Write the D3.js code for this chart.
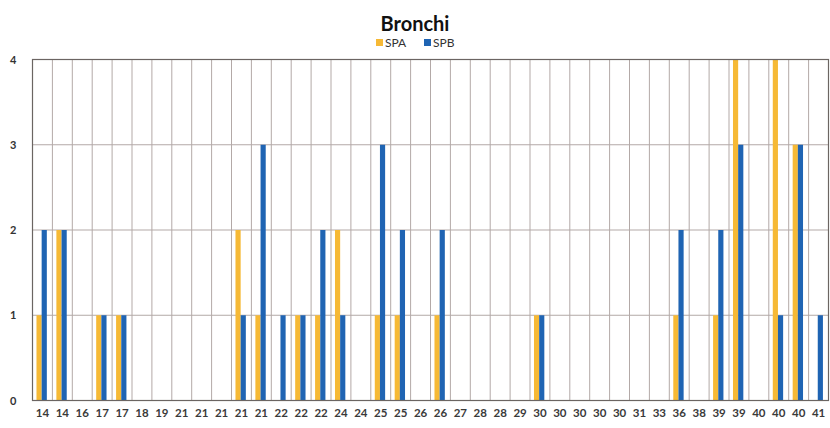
<!DOCTYPE html>
<html>
<head>
<meta charset="utf-8">
<script src="https://cdn.jsdelivr.net/npm/d3@7"></script>
<style>
  body { margin: 0; background: #ffffff; }
  text { font-family: Lato, "Open Sans", sans-serif; }
</style>
</head>
<body>
<svg id="chart" width="830" height="428"></svg>
<script>
// x-axis categories (age labels, repeated as in the source)
const categories = ["14","14","16","17","17","18","19","21","21","21","21","21","22","22","22","24","24","25","25","26",
  "26","27","28","28","29","30","30","30","30","30","31","33","36","38","39","39","40","40","40","41"];
// series values, one per category
const spaValues = [1,2,0,1,1,0,0,0,0,0,2,1,0,1,1,2,0,1,1,0, 1,0,0,0,0,1,0,0,0,0,0,0,1,0,1,4,0,4,3,0];
const spbValues = [2,2,0,1,1,0,0,0,0,0,1,3,1,1,2,1,0,3,2,0, 2,0,0,0,0,1,0,0,0,0,0,0,2,0,2,3,0,1,3,1];
const seriesNames = ["SPA", "SPB"];
const yTicks = [0, 1, 2, 3, 4];

const colors = { SPA: "#f6b935", SPB: "#1f64b3" };

const margin = { top: 59.5, right: 1.5, bottom: 27.5, left: 32.5 };
const width = 830 - margin.left - margin.right;
const height = 428 - margin.top - margin.bottom;

const svg = d3.select("#chart");
const g = svg.append("g").attr("transform", `translate(${margin.left},${margin.top})`);

// index-based band scale, since category labels repeat
const x = d3.scaleBand().domain(d3.range(categories.length)).range([0, width]).padding(0);
const y = d3.scaleLinear().domain([0, 4]).range([height, 0]);

const data = categories.map((c, i) => ({ i: i, label: c, SPA: spaValues[i], SPB: spbValues[i] }));

// horizontal gridlines
g.selectAll(".hgrid")
  .data(yTicks.filter(t => t > 0 && t < 4))
  .join("line")
  .attr("x1", 0).attr("x2", width)
  .attr("y1", d => y(d)).attr("y2", d => y(d))
  .attr("stroke", "#b3a9a7").attr("stroke-width", 1);

// vertical gridlines between categories
g.selectAll(".vgrid")
  .data(d3.range(1, categories.length))
  .join("line")
  .attr("x1", d => x(d)).attr("x2", d => x(d))
  .attr("y1", 0).attr("y2", height)
  .attr("stroke", "#b3a9a7").attr("stroke-width", 1);

// bars
const barW = x.bandwidth() * 0.26;
const x1 = d3.scaleBand().domain(seriesNames).range([0, barW * 2]);
const groupOffset = x.bandwidth() * 0.2;

const groups = g.selectAll(".grp")
  .data(data)
  .join("g")
  .attr("transform", d => `translate(${x(d.i) + groupOffset},0)`);

groups.selectAll("rect")
  .data(d => seriesNames.map(s => ({ key: s, value: d[s] })))
  .join("rect")
  .attr("x", d => x1(d.key))
  .attr("y", d => y(d.value))
  .attr("width", x1.bandwidth())
  .attr("height", d => height - y(d.value))
  .attr("fill", d => colors[d.key]);

// plot border
g.append("rect")
  .attr("x", 0).attr("y", 0)
  .attr("width", width).attr("height", height)
  .attr("fill", "none")
  .attr("stroke", "#6b6562").attr("stroke-width", 1.2);

// y axis labels
const yAxis = g.append("g").call(d3.axisLeft(y).tickValues(yTicks).tickFormat(d3.format("d")).tickSize(0).tickPadding(16));
yAxis.select(".domain").remove();
yAxis.selectAll("text")
  .attr("font-size", 11).attr("font-weight", "bold").attr("fill", "#333")
  .attr("font-family", "Lato, sans-serif");

// x axis labels
const xAxis = g.append("g")
  .attr("transform", `translate(0,${height})`)
  .call(d3.axisBottom(x).tickFormat(i => categories[i]).tickSize(0).tickPadding(8));
xAxis.select(".domain").remove();
xAxis.selectAll("text")
  .attr("font-size", 11.5).attr("font-weight", "bold").attr("fill", "#3a3a3a")
  .attr("font-family", "Lato, sans-serif");

// title
svg.append("text")
  .attr("x", 415).attr("y", 31)
  .attr("text-anchor", "middle")
  .attr("font-size", 20).attr("font-weight", "bold").attr("fill", "#111")
  .text("Bronchi");

// legend
const legend = svg.append("g").attr("transform", "translate(376,38)");
const legendItems = legend.selectAll("g")
  .data(seriesNames)
  .join("g")
  .attr("transform", (d, i) => `translate(${i * 48},0)`);
legendItems.append("rect")
  .attr("width", 7).attr("height", 7).attr("y", 1)
  .attr("fill", d => colors[d]);
legendItems.append("text")
  .attr("x", 9).attr("y", 9)
  .attr("font-size", 12).attr("fill", "#333")
  .text(d => d);
</script>
</body>
</html>
